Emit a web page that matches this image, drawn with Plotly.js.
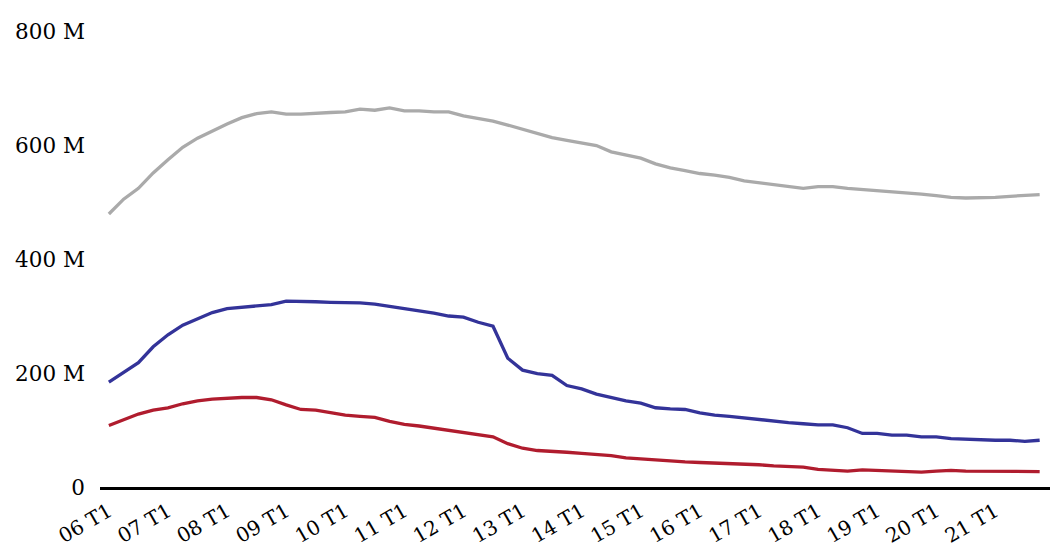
<!DOCTYPE html>
<html>
<head>
<meta charset="utf-8">
<script src="https://cdn.plot.ly/plotly-3.0.1.min.js"></script>
<style>html,body{margin:0;padding:0;background:#fff;}#chart{width:1050px;height:552px;}</style>
</head>
<body>
<div id="chart"></div>
<script>
// Quarters 06 T1 .. 21 T4
const years = ["06","07","08","09","10","11","12","13","14","15","16","17","18","19","20","21"];
const quarters = [];
years.forEach(y => { for (let q = 1; q <= 4; q++) quarters.push(y + " T" + q); });

// Values in millions
const grayValues = [479,505,524,551,574,596,612,625,637,648,655,658,654,654,656,657,
  658,663,661,665,660,660,658,658,651,646,642,635,628,621,613,608,
  603,599,588,582,577,567,560,555,550,547,543,537,534,531,528,524,
  527,527,524,522,521,519,516,514,511,508,507,507,508,510,511,513];
const blueValues = [184,201,218,246,267,284,295,306,313,315,318,320,326,326,325,324,
  324,323,321,317,313,310,305,300,298,289,282,226,205,199,196,178,
  172,163,157,151,147,139,137,136,130,126,124,121,119,116,113,111,
  109,109,104,94,94,91,91,88,88,85,84,82,82,82,80,82];
const redValues = [108,118,128,135,139,146,151,154,156,157,157,153,144,136,135,130,
  126,124,122,115,110,107,103,99,96,92,88,76,68,64,63,61,
  59,57,55,51,49,47,46,44,43,42,42,41,39,37,36,35,
  31,29,28,30,29,29,28,26,28,29,28,28,28,28,27,27];

const yTickVals = [0,200,400,600,800];
const yTickText = ["0","200 M","400 M","600 M","800 M"];
const xTickLabels = years.map(y => y + " T1");

const idx = quarters.map((_, i) => i);
const xTickVals = xTickLabels.map(l => quarters.indexOf(l));

const mk = (vals, color) => ({
  x: idx, y: vals, type: "scatter", mode: "lines",
  line: {color: color, width: 3.3}, hoverinfo: "skip", showlegend: false
});

const data = [
  mk(grayValues, "#aaaaaa"),
  mk(blueValues, "#333399"),
  mk(redValues, "#b01c2e")
];

const layout = {
  width: 1050, height: 552,
  margin: {l: 100, r: 0, t: 31, b: 65},
  paper_bgcolor: "#fff", plot_bgcolor: "#fff",
  font: {family: "DejaVu Serif, serif", size: 21, color: "#000"},
  showlegend: false,
  xaxis: {
    range: [-0.6, 63.7], showgrid: false, zeroline: false,
    showline: true, linecolor: "#000", linewidth: 3,
    tickmode: "array", tickvals: xTickVals, ticktext: xTickLabels,
    tickangle: -30, ticks: "", ticklen: 0, ticklabelstandoff: 2,
    tickfont: {family: "DejaVu Serif, serif", size: 20, color: "#000"}
  },
  yaxis: {
    range: [0, 800], showgrid: false, zeroline: false, showline: false,
    tickmode: "array", tickvals: yTickVals, ticktext: yTickText,
    ticks: "", ticklabelstandoff: 14,
    tickfont: {family: "DejaVu Serif, serif", size: 21.5, color: "#000"}
  }
};

Plotly.newPlot("chart", data, layout, {staticPlot: true, displayModeBar: false});
</script>
</body>
</html>
